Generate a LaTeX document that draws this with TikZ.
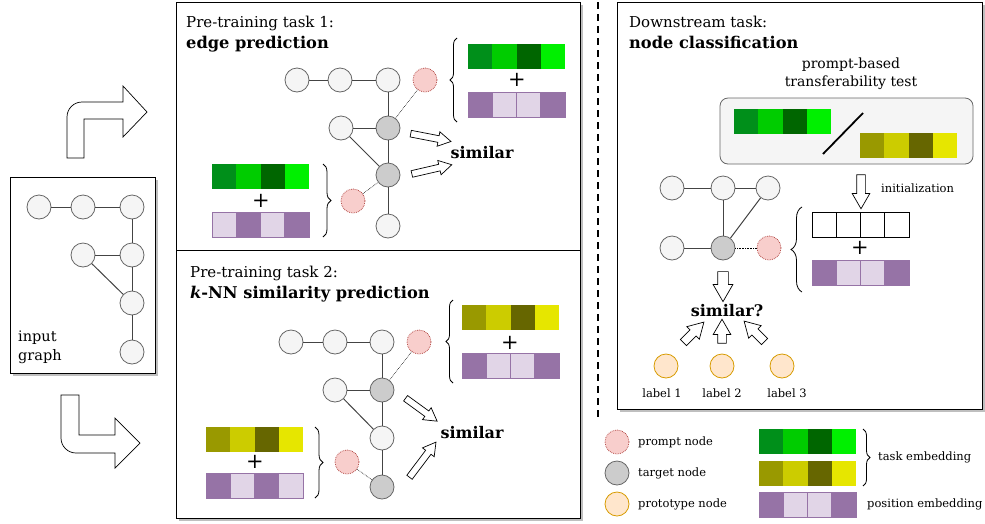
\documentclass[tikz,border=0pt]{standalone}
\usepackage{fontspec}
\setmainfont{DejaVu Serif}
\usetikzlibrary{shapes.arrows,decorations.pathreplacing}

\definecolor{nodefill}{HTML}{F5F5F5}
\definecolor{nodeline}{HTML}{666666}
\definecolor{targetfill}{HTML}{CCCCCC}
\definecolor{promptfill}{HTML}{F8CECC}
\definecolor{promptline}{HTML}{B85450}
\definecolor{protofill}{HTML}{FFE6CC}
\definecolor{protoline}{HTML}{D79B00}
\definecolor{edgecol}{HTML}{444444}
\definecolor{purpD}{HTML}{9673A6}
\definecolor{purpL}{HTML}{E1D5E7}
\definecolor{gA}{HTML}{008F1A}
\definecolor{gB}{HTML}{00CC00}
\definecolor{gC}{HTML}{006600}
\definecolor{gD}{HTML}{00F000}
\definecolor{oA}{HTML}{999900}
\definecolor{oB}{HTML}{CCCC00}
\definecolor{oC}{HTML}{666600}
\definecolor{oD}{HTML}{E6E600}

% one embedding bar: name, left/centre point, colours, border
\newcommand{\embbar}[4]{%
  \foreach \col [count=\i] in {#3}
    \node[cell, fill=\col, draw=#4] (#1\i) at ([xshift={(\i-1)*24.25}]#2) {};
}

\begin{document}
\begin{tikzpicture}[x=1pt,y=-1pt,
  gnode/.style={circle, draw=nodeline, fill=nodefill, minimum size=24pt, inner sep=0pt, line width=0.8pt},
  target/.style={gnode, fill=targetfill},
  prompt/.style={gnode, draw=promptline, fill=promptfill, densely dotted},
  proto/.style={gnode, draw=protoline, fill=protofill},
  edge/.style={draw=edgecol, line width=1pt},
  pedge/.style={draw=black, densely dotted, line width=0.6pt},
  panel/.style={draw, line width=0.8pt, fill=white},
  shadow/.style={fill=black!25, draw=none},
  cell/.style={minimum width=24.25pt, minimum height=25pt, inner sep=0pt, outer sep=0pt, anchor=west, line width=0.8pt},
  blockarr/.style={single arrow, draw, fill=white, inner xsep=0pt, inner ysep=3pt, single arrow head extend=4pt, single arrow tip angle=60, line width=0.7pt},
  bigarr/.style={blockarr, inner ysep=4.5pt, single arrow head extend=4.5pt},
  brc/.style={decorate, decoration={brace, amplitude=#1}, line width=0.8pt},
  brc/.default=7pt,
  title/.style={anchor=base west, inner sep=0pt, font=\fontsize{15}{18}\selectfont},
  titleb/.style={title, font=\fontsize{16.2}{18}\selectfont\bfseries},
  sim/.style={inner sep=0pt, font=\fontsize{16}{18}\selectfont\bfseries},
  plus/.style={inner sep=0pt, font=\fontsize{21}{21}\selectfont},
  small/.style={inner sep=0pt, font=\fontsize{11.5}{14}\selectfont},
  legend/.style={anchor=west, inner sep=0pt, font=\fontsize{11.5}{14}\selectfont}
]
\useasboundingbox (0,0) rectangle (985,523);

% Boxes
\fill[shadow] (13,180) rectangle (158,376);
\fill[shadow] (179,5) rectangle (583,521);
\fill[shadow] (620,5) rectangle (985,412);
\draw[panel] (10,177) rectangle (155,373);
\draw[panel] (176,2) rectangle (580,250);
\draw[panel] (176,250) rectangle (580,518);
\draw[panel] (617,2) rectangle (982,409);
\draw[line width=2pt, dash pattern=on 7pt off 5pt] (598,2) -- (598,420);

% Bent arrows
\draw[fill=white, line width=0.7pt] (67,158) -- (67,117) .. controls (67,108.7) and (73.7,102) .. (82,102)
  -- (123,102) -- (123,86) -- (147,112) -- (123,137) -- (123,119) -- (84,119) -- (84,158) -- cycle;
\draw[fill=white, line width=0.7pt] (61,395) -- (61,438) .. controls (61,446.3) and (67.7,453) .. (76,453)
  -- (115,453) -- (115,468) -- (140,443) -- (115,418) -- (115,435) -- (79,435) -- (79,395) -- cycle;

% Input graph
\node[gnode] (in1) at (39,207) {};
\node[gnode] (in2) at (83,207) {};
\node[gnode] (in3) at (132,207) {};
\node[gnode] (in4) at (83,255) {};
\node[gnode] (in5) at (132,255) {};
\node[gnode] (in6) at (132,303) {};
\node[gnode] (in7) at (132,352) {};
\draw[edge] (in1) -- (in2);
\draw[edge] (in2) -- (in3);
\draw[edge] (in3) -- (in5);
\draw[edge] (in4) -- (in5);
\draw[edge] (in5) -- (in6);
\draw[edge] (in6) -- (in7);
\draw[edge] (in4) -- (in6);
\node[anchor=west, align=left, inner sep=0pt, font=\fontsize{14.5}{19}\selectfont] (inlbl) at (18,347) {input\\graph};

% Pre-training task 1
\node[title] (t1a) at (186,27) {Pre-training task 1:};
\node[titleb] (t1b) at (186,48) {edge prediction};
\node[gnode] (t1r1) at (297,80) {};
\node[gnode] (t1r2) at (340,80) {};
\node[gnode] (t1r3) at (388,80) {};
\node[prompt] (t1p1) at (425,80) {};
\node[gnode] (t1m) at (341,128) {};
\node[target] (t1x) at (388,128) {};
\node[target] (t1y) at (388,175) {};
\node[gnode] (t1d) at (388,226) {};
\node[prompt] (t1p2) at (353,201) {};
\draw[edge] (t1r1) -- (t1r2);
\draw[edge] (t1r2) -- (t1r3);
\draw[edge] (t1r3) -- (t1x);
\draw[edge] (t1m) -- (t1x);
\draw[edge] (t1m) -- (t1y);
\draw[edge] (t1x) -- (t1y);
\draw[edge] (t1y) -- (t1d);
\draw[pedge] (t1p1) -- (t1x);
\draw[pedge] (t1p2) -- (t1y);
\embbar{t1g}{468,56.5}{gA,gB,gC,gD}{none}
\node[plus] (t1plus) at (517,80) {+};
\embbar{t1q}{468,104.5}{purpD,purpL,purpL,purpD}{purpD}
\embbar{t1h}{212,176}{gA,gB,gC,gD}{none}
\node[plus] (t1plusb) at (261,201) {+};
\embbar{t1s}{212,224.5}{purpL,purpD,purpL,purpD}{purpD}
\draw[brc] (457,122) -- (457,38);
\draw[brc=8pt] (323,164) -- (323,237);
\node[blockarr, minimum height=41pt, rotate=-11] (t1ar1) at (428,137) {};
\node[blockarr, minimum height=41pt, rotate=13] (t1ar2) at (429,170) {};
\node[sim] (t1sim) at (482,153) {similar};

% Pre-training task 2
\node[title] (t2a) at (190,277) {Pre-training task 2:};
\node[titleb] (t2b) at (190,298) {{\itshape k}-NN similarity prediction};
\node[gnode] (t2r1) at (291,342) {};
\node[gnode] (t2r2) at (335,342) {};
\node[gnode] (t2r3) at (382,342) {};
\node[prompt] (t2p1) at (419,342) {};
\node[gnode] (t2m) at (335,390) {};
\node[target] (t2x) at (382,390) {};
\node[gnode] (t2n) at (382,438) {};
\node[target] (t2y) at (382,487) {};
\node[prompt] (t2p2) at (347,462) {};
\draw[edge] (t2r1) -- (t2r2);
\draw[edge] (t2r2) -- (t2r3);
\draw[edge] (t2r3) -- (t2x);
\draw[edge] (t2m) -- (t2x);
\draw[edge] (t2m) -- (t2n);
\draw[edge] (t2x) -- (t2n);
\draw[edge] (t2n) -- (t2y);
\draw[pedge] (t2p1) -- (t2x);
\draw[pedge] (t2p2) -- (t2y);
\embbar{t2g}{462,317.5}{oA,oB,oC,oD}{none}
\node[plus] (t2plus) at (510,343) {+};
\embbar{t2q}{462,365.5}{purpD,purpL,purpL,purpD}{purpD}
\embbar{t2h}{206,439}{oA,oB,oC,oD}{none}
\node[plus] (t2plusb) at (255,462) {+};
\embbar{t2s}{206,486}{purpD,purpL,purpD,purpL}{purpD}
\draw[brc] (453,383) -- (453,300);
\draw[brc=8pt] (315,427) -- (315,498);
\node[blockarr, minimum height=39pt, rotate=-36] (t2ar1) at (419,408) {};
\node[blockarr, minimum height=44pt, rotate=53] (t2ar2) at (421,462) {};
\node[sim] (t2sim) at (472,433) {similar};

% Downstream task
\node[title] (dsa) at (629,27) {Downstream task:};
\node[titleb] (dsb) at (629,48) {node classification};
\node[align=center, inner sep=0pt, font=\fontsize{14}{18}\selectfont] (pbt) at (851,74) {prompt-based\\transferability test};
\draw[fill=nodefill, draw=nodeline, line width=0.8pt, rounded corners=8pt] (720,98) rectangle (973,164);
\embbar{dsg}{734,121.5}{gA,gB,gC,gD}{none}
\embbar{dso}{860,145.5}{oA,oB,oC,oD}{none}
\draw[line width=1.8pt] (823,154) -- (863,113);
\node[bigarr, minimum height=34pt, inner ysep=4pt, rotate=-90] (dsinit) at (861,188) {};
\node[small, anchor=west] (initlbl) at (881,188) {initialization};
\node[gnode] (dsr1) at (672,188) {};
\node[gnode] (dsr2) at (723,188) {};
\node[gnode] (dsr3) at (768,188) {};
\node[gnode] (dsm) at (672,248) {};
\node[target] (dsx) at (723,248) {};
\node[prompt] (dsp) at (769,248) {};
\draw[edge] (dsr1) -- (dsr2);
\draw[edge] (dsr2) -- (dsr3);
\draw[edge] (dsr2) -- (dsx);
\draw[edge] (dsr3) -- (dsx);
\draw[edge] (dsm) -- (dsx);
\draw[pedge] (dsx) -- (dsp);
\embbar{dse}{812,225}{white,white,white,white}{black}
\node[plus] (dsplus) at (860,248) {+};
\embbar{dsq}{812,273}{purpD,purpL,purpL,purpD}{purpD}
\draw[brc=11pt] (802,292) -- (802,207);
\node[bigarr, minimum height=30pt, inner ysep=5pt, rotate=-90] (dsdown) at (723,282) {};
\node[sim] (dssim) at (727,311) {similar?};
\node[bigarr, minimum height=29pt, inner ysep=4pt, rotate=45] (dsup1) at (691,335) {};
\node[bigarr, minimum height=24pt, inner ysep=4pt, rotate=90] (dsup2) at (722,335) {};
\node[bigarr, minimum height=29pt, inner ysep=4pt, rotate=135] (dsup3) at (757,334) {};
\node[proto] (pr1) at (666,366) {};
\node[proto] (pr2) at (722,366) {};
\node[proto] (pr3) at (782,366) {};
\node[small] (lb1) at (662,393) {label 1};
\node[small] (lb2) at (722,393) {label 2};
\node[small] (lb3) at (787,393) {label 3};

% Legend
\node[prompt] (lgp) at (617,442) {};
\node[target] (lgt) at (617,473) {};
\node[proto] (lgo) at (617,504) {};
\node[legend] (lgpt) at (638,442) {prompt node};
\node[legend] (lgtt) at (638,473) {target node};
\node[legend] (lgot) at (638,504) {prototype node};
\embbar{lgg}{759,441.5}{gA,gB,gC,gD}{none}
\embbar{lgo}{759,473.5}{oA,oB,oC,oD}{none}
\embbar{lgq}{759,504.5}{purpD,purpL,purpL,purpD}{purpD}
\draw[brc] (863,429) -- (863,486);
\node[legend] (lgte) at (878,457) {task embedding};
\node[legend] (lgpe) at (867,504) {position embedding};

\end{tikzpicture}
\end{document}
